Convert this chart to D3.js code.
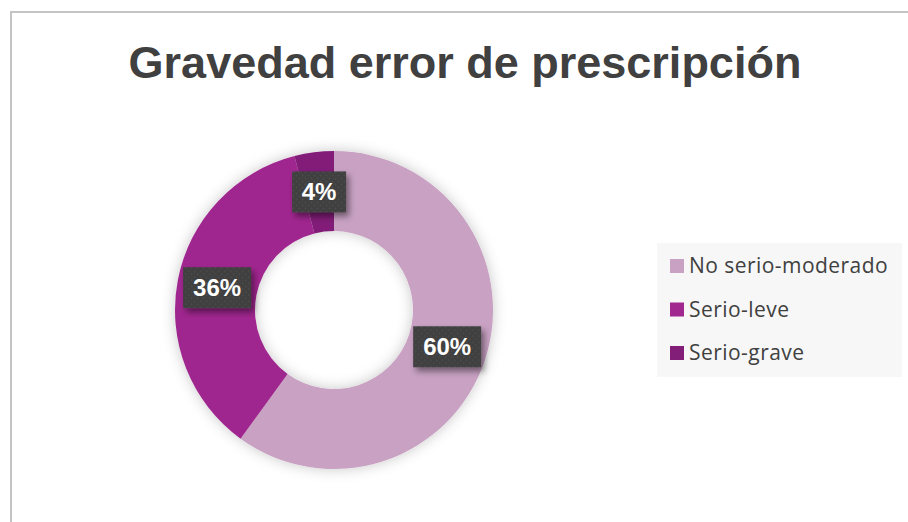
<!doctype html>
<html lang="es">
<head>
  <meta charset="utf-8">
  <title>Gravedad error de prescripción</title>
  <script src="https://cdn.jsdelivr.net/npm/d3@7/dist/d3.min.js"></script>
</head>
<body style="margin:0;background:#fff;">
<style>
.title { font: bold 45px "Liberation Sans", Arial, sans-serif; fill: #404040; text-anchor: middle; }
.lbl { font: bold 24px "Liberation Sans", Arial, sans-serif; fill: #fff; text-anchor: middle; }
.legend text { font: 21px "Open Sans", sans-serif; fill: #404040; letter-spacing: 0.45px; }
</style>
<svg id="chart" width="908" height="522"></svg>
<script>
var categories = ["No serio-moderado", "Serio-leve", "Serio-grave"];
var values = [60, 36, 4];
var labels = ["60%", "36%", "4%"];
var colors = ["#C8A1C3", "#A0288F", "#821E78"];

var svg = d3.select("#chart");
var defs = svg.append("defs");

// soft shadow round the ring
var f = defs.append("filter").attr("id", "ringShadow")
  .attr("x", "-30%").attr("y", "-30%").attr("width", "160%").attr("height", "160%");
f.append("feDropShadow").attr("dx", 0).attr("dy", 0)
  .attr("stdDeviation", 7).attr("flood-color", "#000").attr("flood-opacity", 0.22);

// label box shadow
var f2 = defs.append("filter").attr("id", "boxShadow")
  .attr("x", "-30%").attr("y", "-30%").attr("width", "160%").attr("height", "160%");
f2.append("feDropShadow").attr("dx", 3).attr("dy", 4)
  .attr("stdDeviation", 3).attr("flood-color", "#000").attr("flood-opacity", 0.45);

// dotted fill of label boxes
var pat = defs.append("pattern").attr("id", "dots")
  .attr("width", 6).attr("height", 6).attr("patternUnits", "userSpaceOnUse");
pat.append("rect").attr("width", 6).attr("height", 6).attr("fill", "#3f3f3f");
pat.append("circle").attr("cx", 1.5).attr("cy", 1.5).attr("r", 1).attr("fill", "#4d4d4d");
pat.append("circle").attr("cx", 4.5).attr("cy", 4.5).attr("r", 1).attr("fill", "#4d4d4d");

// chart border (cropped on the right and bottom)
svg.append("rect")
  .attr("x", 11).attr("y", 12).attr("width", 1000).attr("height", 1000)
  .attr("fill", "none").attr("stroke", "#c4c4c4").attr("stroke-width", 2);

svg.append("text").attr("class", "title")
  .attr("x", 465).attr("y", 78)
  .text("Gravedad error de prescripción");

var cx = 334, cy = 310, rOuter = 159, rInner = 79;

var pie = d3.pie().sort(null).value(function(d) { return d; });
var arc = d3.arc().innerRadius(rInner).outerRadius(rOuter);
var arcs = pie(values);

var g = svg.append("g").attr("transform", "translate(" + cx + "," + cy + ")");

g.append("g").attr("filter", "url(#ringShadow)")
  .selectAll("path")
  .data(arcs)
  .enter().append("path")
    .attr("d", arc)
    .attr("fill", function(d, i) { return colors[i]; });

var lab = g.selectAll("g.lab")
  .data(arcs)
  .enter().append("g")
    .attr("class", "lab")
    .attr("transform", function(d) { return "translate(" + arc.centroid(d) + ")"; });

lab.append("rect")
  .attr("x", function(d, i) { return labels[i].length > 2 ? -34 : -27; })
  .attr("y", -20.5)
  .attr("width", function(d, i) { return labels[i].length > 2 ? 68 : 54; })
  .attr("height", 41)
  .attr("fill", "url(#dots)")
  .attr("filter", "url(#boxShadow)");

lab.append("text").attr("class", "lbl")
  .attr("y", 8.5)
  .text(function(d, i) { return labels[i]; });

// legend
var legend = svg.append("g").attr("class", "legend");
legend.append("rect")
  .attr("x", 657).attr("y", 243).attr("width", 245).attr("height", 134)
  .attr("fill", "#f7f7f7");

var y = d3.scalePoint().domain(categories).range([266, 353]);

var item = legend.selectAll("g.item")
  .data(categories)
  .enter().append("g")
    .attr("class", "item")
    .attr("transform", function(d) { return "translate(670," + y(d) + ")"; });

item.append("rect")
  .attr("x", 0).attr("y", -7).attr("width", 14).attr("height", 14)
  .attr("fill", function(d, i) { return colors[i]; });

item.append("text")
  .attr("x", 19).attr("y", 7)
  .text(function(d) { return d; });
</script>
</body>
</html>
